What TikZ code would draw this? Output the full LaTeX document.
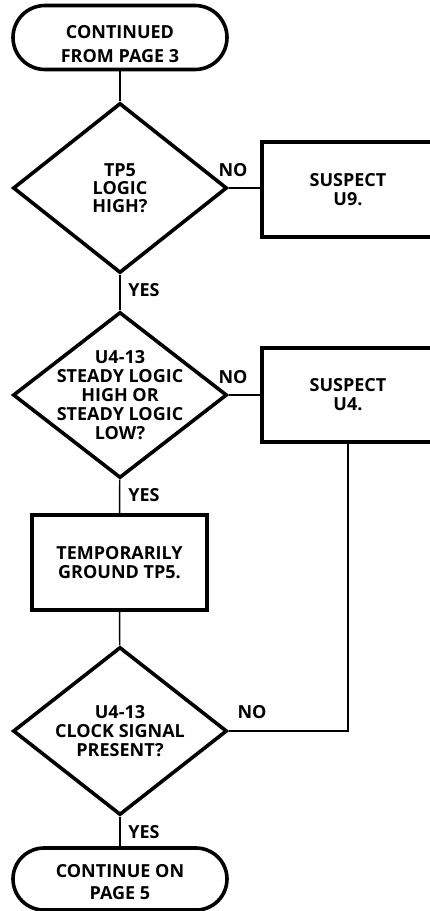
\documentclass[tikz,border=0pt]{standalone}
\usepackage{fontspec}
\setmainfont{Open Sans}
\usetikzlibrary{shapes.geometric,shapes.misc}
\begin{document}
\begin{tikzpicture}[x=0.75pt,y=-0.75pt,
  every node/.style={font=\bfseries\fontsize{13.5}{14}\selectfont},
  shapeline/.style={draw, line width=2.7pt},
  term/.style={shapeline, rounded rectangle, minimum width=160.5pt, inner sep=0pt},
  dec/.style={shapeline, diamond, minimum width=160.5pt, inner sep=0pt},
  proc/.style={shapeline, rectangle, inner sep=0pt},
  conn/.style={line width=1.1pt},
  lbl/.style={inner sep=0pt},
  txt/.style={align=center, inner sep=0pt}
]
\useasboundingbox (0,0) rectangle (429,911);

\node[term, minimum height=48pt,
  label={[txt, yshift=-5pt, font=\bfseries\fontsize{13.5}{18.5}\selectfont]center:CONTINUED\\FROM PAGE 3}] (start) at (120,37.5) {};

\node[dec, minimum height=127.5pt,
  label={[txt, font=\bfseries\fontsize{13.5}{13.5}\selectfont]center:TP5\\LOGIC\\HIGH?}] (d1) at (120,188) {};
\node[proc, minimum width=129pt, minimum height=71.25pt, align=center,
  font=\bfseries\fontsize{13.5}{14.25}\selectfont] (s9) at (348,189.5) {SUSPECT\\U9.};

\node[dec, minimum height=124.5pt,
  label={[txt, font=\bfseries\fontsize{13.5}{14.25}\selectfont]center:U4-13\\STEADY LOGIC\\HIGH OR\\STEADY LOGIC\\LOW?}] (d2) at (120,395) {};
\node[proc, minimum width=129pt, minimum height=70.5pt, align=center,
  font=\bfseries\fontsize{13.5}{14.25}\selectfont] (s4) at (348,395) {SUSPECT\\U4.};

\node[proc, minimum width=131.25pt, minimum height=71.25pt, align=center,
  font=\bfseries\fontsize{13.5}{14.25}\selectfont] (gnd) at (119.5,562.5) {TEMPORARILY\\GROUND TP5.};

\node[dec, minimum height=126pt,
  label={[txt, font=\bfseries\fontsize{13.5}{14}\selectfont]center:U4-13\\CLOCK SIGNAL\\PRESENT?}] (d3) at (120,731) {};

\node[term, minimum height=46.5pt,
  label={[txt, yshift=-2pt, font=\bfseries\fontsize{13.5}{16.5}\selectfont]center:CONTINUE ON\\PAGE 5}] (end) at (120,879) {};

\node[lbl] (no1) at (233,170) {NO};
\node[lbl] (yes1) at (144,290) {YES};
\node[lbl] (no2) at (233,377) {NO};
\node[lbl] (yes2) at (144,495) {YES};
\node[lbl] (no3) at (252,712) {NO};
\node[lbl] (yes3) at (144,832) {YES};

\draw[conn] (start) -- (d1);
\draw[conn] (d1.east) -- (d1.east -| s9.west);
\draw[conn] (d1) -- (d2);
\draw[conn] (d2.east) -- (s4.west);
\draw[conn] (d2) -- (gnd);
\draw[conn] (gnd) -- (d3);
\draw[conn] (d3) -- (end);
\draw[conn] (s4.south) |- (d3.east);
\end{tikzpicture}
\end{document}
